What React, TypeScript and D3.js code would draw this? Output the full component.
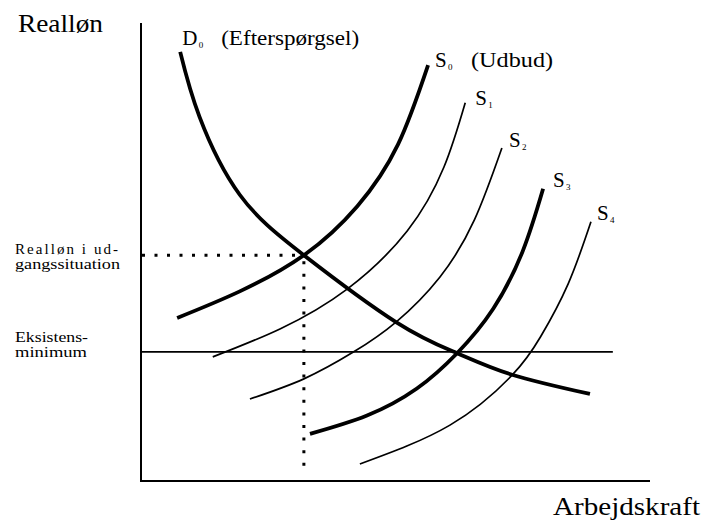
import React from "react";
import * as d3 from "d3";

type P = [number, number];

// Labour (x) and real wage (y) in abstract units 0..100
const demandD0: P[] = [
  [7.7, 93.7], [11.5, 79.5], [19.4, 62.5], [32.0, 49.3],
  [50.1, 34.7], [62.1, 27.9], [72.9, 23.2], [88.2, 19.0],
];
const supplyS0: P[] = [
  [7.1, 35.6], [19.4, 41.4], [32.0, 49.3], [42.5, 60.0], [50.5, 73.5], [56.4, 90.8],
];
const supplyS1: P[] = [
  [14.1, 27.1], [27.3, 33.2], [40.5, 41.9], [52.3, 54.6], [59.5, 68.5], [63.7, 82.6],
];
const supplyS2: P[] = [
  [21.4, 17.9], [32.0, 22.3], [41.8, 28.2], [50.1, 34.7], [58.7, 44.5], [65.5, 57.0], [70.9, 72.7],
];
const supplyS3: P[] = [
  [33.2, 10.3], [44.4, 14.3], [54.2, 20.2], [62.1, 27.9], [69.2, 37.6], [75.0, 50.2], [79.0, 63.8],
];
const supplyS4: P[] = [
  [43.0, 3.7], [60.7, 12.2], [72.9, 23.1], [78.5, 31.5], [83.9, 43.0], [88.4, 56.6],
];

const subsistenceWage = 28.2;
const subsistenceEnd = 92.7;
const initialWage = 49.3;
const initialLabour = 32.0;
const dottedBottom = 2.2;

const axisLabels = { y: "Realløn", x: "Arbejdskraft" };
const levelLabels = [
  { lines: ["Realløn i ud-", "gangssituation"], widths: [103, 105], wage: initialWage },
  { lines: ["Eksistens-", "minimum"], widths: [73, 72], wage: subsistenceWage },
];

const curves = [
  { id: "D0", pts: demandD0, thick: true, main: "D", sub: "0", extra: "(Efterspørgsel)", at: "start" },
  { id: "S0", pts: supplyS0, thick: true, main: "S", sub: "0", extra: "(Udbud)", at: "end" },
  { id: "S1", pts: supplyS1, thick: false, main: "S", sub: "1", extra: "", at: "end" },
  { id: "S2", pts: supplyS2, thick: false, main: "S", sub: "2", extra: "", at: "end" },
  { id: "S3", pts: supplyS3, thick: true, main: "S", sub: "3", extra: "", at: "end" },
  { id: "S4", pts: supplyS4, thick: false, main: "S", sub: "4", extra: "", at: "end" },
];

const labelOffsets: Record<string, { dx: number; dy: number; subDx: number; extraDx: number; extraLen: number }> = {
  D0: { dx: 2, dy: -7, subDx: 16.5, extraDx: 39, extraLen: 138 },
  S0: { dx: 7, dy: 2, subDx: 13, extraDx: 36, extraLen: 82 },
  S1: { dx: 10, dy: 2, subDx: 13, extraDx: 0, extraLen: 0 },
  S2: { dx: 7, dy: -1, subDx: 13, extraDx: 0, extraLen: 0 },
  S3: { dx: 10, dy: -2, subDx: 13, extraDx: 0, extraLen: 0 },
  S4: { dx: 6, dy: -2, subDx: 13, extraDx: 0, extraLen: 0 },
};

const W = 707;
const H = 531;
const FONT = "'Liberation Serif', 'Times New Roman', serif";

export default function App() {
  const x = d3.scaleLinear().domain([0, 100]).range([141, 650]);
  const y = d3.scaleLinear().domain([0, 100]).range([481, 23]);
  const line = d3
    .line<P>()
    .x((d) => x(d[0]))
    .y((d) => y(d[1]))
    .curve(d3.curveNatural);

  return (
    <div style={{ position: "absolute", left: 0, top: 0 }}>
      <svg width={W} height={H} style={{ display: "block", background: "#fff" }} fontFamily={FONT}>
        <rect width={W} height={H} fill="#fff" />
        {/* axes */}
        <line x1={x(0)} y1={y(0)} x2={x(0)} y2={y(100)} stroke="#000" strokeWidth={2} />
        <line x1={x(0) - 1} y1={y(0)} x2={x(100)} y2={y(0)} stroke="#000" strokeWidth={2} />
        {/* subsistence line */}
        <line
          x1={x(0)}
          y1={y(subsistenceWage)}
          x2={x(subsistenceEnd)}
          y2={y(subsistenceWage)}
          stroke="#000"
          strokeWidth={1.8}
        />
        {/* dotted guides */}
        <line
          x1={x(0) + 1}
          y1={y(initialWage)}
          x2={x(initialLabour)}
          y2={y(initialWage)}
          stroke="#000"
          strokeWidth={3}
          strokeDasharray="3 9.5"
        />
        <line
          x1={x(initialLabour)}
          y1={y(initialWage) + 6}
          x2={x(initialLabour)}
          y2={y(dottedBottom)}
          stroke="#000"
          strokeWidth={3}
          strokeDasharray="3 9.6"
        />
        {/* curves */}
        {curves.map((c) => (
          <path
            key={c.id}
            d={line(c.pts) || ""}
            fill="none"
            stroke="#000"
            strokeWidth={c.thick ? 3.8 : 1.7}
          />
        ))}
        {/* curve labels */}
        {curves.map((c) => {
          const p = c.at === "start" ? c.pts[0] : c.pts[c.pts.length - 1];
          const o = labelOffsets[c.id];
          const lx = x(p[0]) + o.dx;
          const ly = y(p[1]) + o.dy;
          return (
            <g key={"l" + c.id}>
              <text x={lx} y={ly} fontSize={21} fill="#000">
                {c.main}
              </text>
              <text x={lx + o.subDx} y={ly + 3} fontSize={9} fill="#000">
                {c.sub}
              </text>
              {c.extra && (
                <text
                  x={lx + o.extraDx}
                  y={ly}
                  fontSize={21}
                  fill="#000"
                  textLength={o.extraLen}
                  lengthAdjust="spacingAndGlyphs"
                >
                  {c.extra}
                </text>
              )}
            </g>
          );
        })}
        {/* axis titles */}
        <text x={18} y={32} fontSize={25} textLength={85} lengthAdjust="spacingAndGlyphs" fill="#000">
          {axisLabels.y}
        </text>
        <text x={553} y={515} fontSize={25} textLength={147} lengthAdjust="spacingAndGlyphs" fill="#000">
          {axisLabels.x}
        </text>
        {/* level labels */}
        {levelLabels.map((l, i) => {
          const base = i === 0 ? y(l.wage) - 1 : y(l.wage) - 10;
          return (
            <g key={"lv" + i}>
              {l.lines.map((t, j) => (
                <text
                  key={j}
                  x={15}
                  y={base + j * 15}
                  fontSize={15}
                  fill="#000"
                  textLength={l.widths[j]}
                  lengthAdjust={j === 0 && i === 0 ? "spacing" : "spacingAndGlyphs"}
                >
                  {t}
                </text>
              ))}
            </g>
          );
        })}
      </svg>
    </div>
  );
}
